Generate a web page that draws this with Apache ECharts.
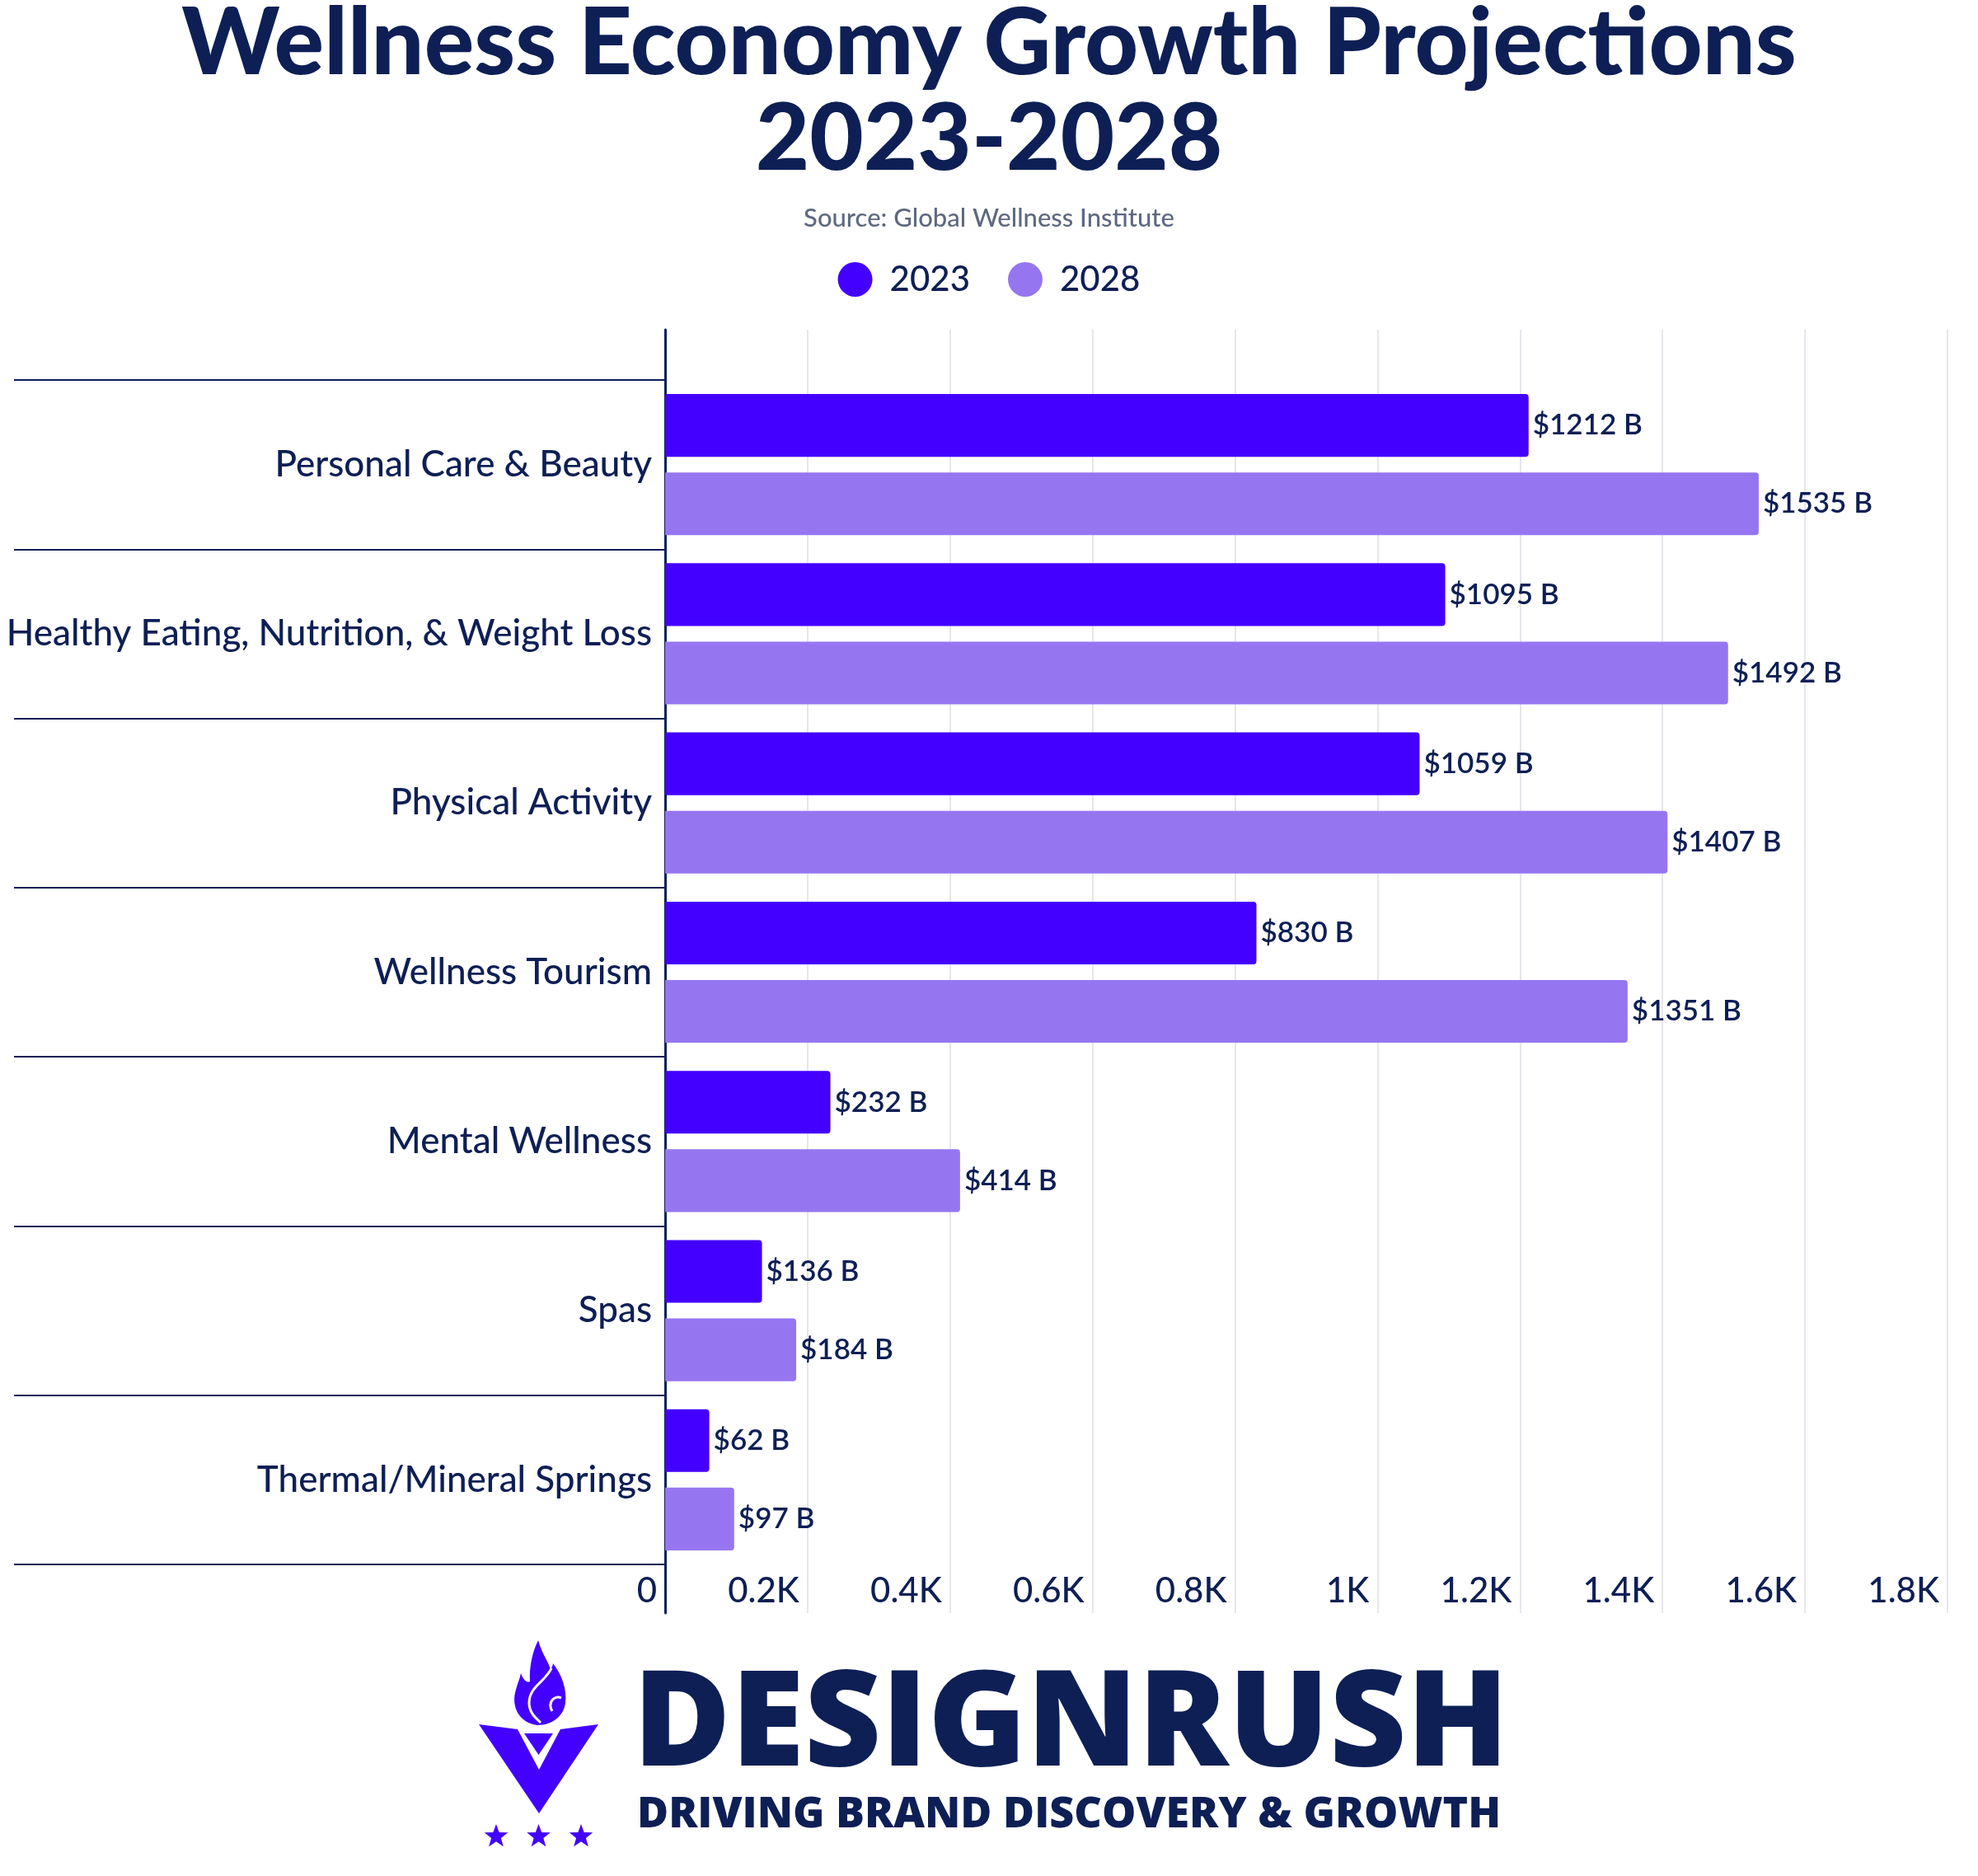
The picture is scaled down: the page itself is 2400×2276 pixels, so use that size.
<!DOCTYPE html>
<html>
<head>
<meta charset="utf-8">
<script src="https://cdn.jsdelivr.net/npm/echarts@6/dist/echarts.min.js"></script>
<style>
html,body{margin:0;padding:0;background:#fff;}
#chart{width:2400px;height:2276px;}
</style>
</head>
<body>
<div id="chart"></div>
<script>
const categories = [
  'Personal Care & Beauty',
  'Healthy Eating, Nutrition, & Weight Loss',
  'Physical Activity',
  'Wellness Tourism',
  'Mental Wellness',
  'Spas',
  'Thermal/Mineral Springs'
];
const seriesNames = ['2023', '2028'];
const values2023 = [1212, 1095, 1059, 830, 232, 136, 62];
const values2028 = [1535, 1492, 1407, 1351, 414, 184, 97];
const xTickLabels = ['0', '0.2K', '0.4K', '0.6K', '0.8K', '1K', '1.2K', '1.4K', '1.6K', '1.8K'];

const NAVY = '#0D1F55';
const C2023 = '#4400FF';
const C2028 = '#9676F0';
const FONT = 'Lato';

function starPoints(cx, cy, R, r) {
  const pts = [];
  for (let i = 0; i < 10; i++) {
    const a = -Math.PI / 2 + i * Math.PI / 5;
    const rad = i % 2 === 0 ? R : r;
    pts.push([cx + rad * Math.cos(a), cy + rad * Math.sin(a)]);
  }
  return pts;
}

const FLAME = 'M92 113 C68 110 60 88 66 70 C68 62 71 56 72 50 C75 58 79 62 83 60 C82 42 86 24 93 10 C98 28 106 36 108 46 C110 42 111 40 111 38 C122 52 128 70 126 86 C124 102 110 113 92 113 Z';

function renderLogo() {
  return {
    type: 'group', x: 560, y: 1980,
    children: [
      {type: 'path', shape: {pathData: FLAME}, style: {fill: C2023}},
      {type: 'path', shape: {pathData: 'M109 44 C102 60 82 66 82 86 C82 98 90 104 96 110'},
        style: {fill: null, stroke: '#ffffff', lineWidth: 3}},
      {type: 'path', shape: {pathData: 'M121 80 C112 76 104 86 110 96'},
        style: {fill: null, stroke: '#ffffff', lineWidth: 3}},
      {type: 'polygon', shape: {points: [[21, 112], [68, 118], [94, 167], [120, 118], [166, 112], [94, 220]]},
        style: {fill: C2023}},
      {type: 'polygon', shape: {points: [[76, 123], [111, 123], [93.5, 149]]}, style: {fill: C2023}},
      {type: 'polygon', shape: {points: starPoints(42, 248, 15, 6.2)}, style: {fill: C2023}},
      {type: 'polygon', shape: {points: starPoints(93.5, 248, 15, 6.2)}, style: {fill: C2023}},
      {type: 'polygon', shape: {points: starPoints(145, 248, 15, 6.2)}, style: {fill: C2023}}
    ]
  };
}

const chart = echarts.init(document.getElementById('chart'), null, {renderer: 'canvas'});

const option = {
  backgroundColor: '#ffffff',
  animation: false,
  title: [
    {
      text: 'Wellness Economy Growth Projections\n2023-2028',
      left: 'center',
      top: -9,
      textStyle: {
        fontFamily: FONT, fontWeight: 900, fontSize: 113, lineHeight: 116, color: NAVY, align: 'center'
      }
    },
    {
      text: 'Source: Global Wellness Institute',
      left: 'center',
      top: 242,
      textStyle: {fontFamily: FONT, fontWeight: 500, fontSize: 31, lineHeight: 36, color: '#5E6880'}
    }
  ],
  legend: {
    data: seriesNames,
    left: 'center',
    top: 313,
    icon: 'circle',
    itemWidth: 42,
    itemHeight: 42,
    itemGap: 46,
    textStyle: {fontFamily: FONT, fontSize: 42, lineHeight: 42, color: NAVY, fontWeight: 500, padding: [0, 0, 0, 16]}
  },
  grid: [
    {left: 807, right: 37, top: 400, bottom: 319, containLabel: false},
    {left: 807, right: 37, top: 461, bottom: 378, containLabel: false}
  ],
  xAxis: [
    {
      gridIndex: 0, type: 'value', min: 0, max: 1800, interval: 200,
      axisLine: {show: false}, axisTick: {show: false},
      splitLine: {show: true, lineStyle: {color: '#E6E6EC', width: 2}},
      axisLabel: {
        inside: true, margin: 27, align: 'right', verticalAlign: 'middle',
        padding: [0, 10, 0, 0],
        fontFamily: FONT, fontSize: 42, fontWeight: 500, color: NAVY,
        formatter: function (v) { return xTickLabels[Math.round(v / 200)]; }
      }
    },
    {
      gridIndex: 1, type: 'value', min: 0, max: 1800, interval: 200, show: false,
      splitLine: {show: false}
    }
  ],
  yAxis: [
    {
      gridIndex: 0, type: 'value', min: 0, max: 1,
      axisLine: {show: true, lineStyle: {color: NAVY, width: 3}},
      axisTick: {show: false}, axisLabel: {show: false}, splitLine: {show: false}
    },
    {
      gridIndex: 1, type: 'category', inverse: true, data: categories,
      axisLine: {show: false},
      axisTick: {show: true, length: 790, interval: 0, lineStyle: {color: NAVY, width: 2}},
      axisLabel: {
        margin: 16, interval: 0, fontFamily: FONT, fontSize: 44, fontWeight: 500, color: NAVY
      },
      splitLine: {show: false}
    }
  ],
  series: [
    {
      name: seriesNames[0], type: 'bar', xAxisIndex: 1, yAxisIndex: 1,
      data: values2023,
      barCategoryGap: '16.6%', barGap: '25%',
      itemStyle: {color: C2023, borderRadius: [0, 4, 4, 0]},
      label: {
        show: true, position: 'right', distance: 5,
        formatter: '${c} B',
        fontFamily: FONT, fontSize: 35, fontWeight: 600, color: NAVY
      }
    },
    {
      name: seriesNames[1], type: 'bar', xAxisIndex: 1, yAxisIndex: 1,
      data: values2028,
      barCategoryGap: '16.6%', barGap: '25%',
      itemStyle: {color: C2028, borderRadius: [0, 4, 4, 0]},
      label: {
        show: true, position: 'right', distance: 5,
        formatter: '${c} B',
        fontFamily: FONT, fontSize: 35, fontWeight: 600, color: NAVY
      }
    },
    {
      name: 'logo', type: 'custom', coordinateSystem: 'none',
      data: [[0]], silent: true,
      renderItem: function () { return renderLogo(); }
    }
  ],
  graphic: [
    {
      type: 'text', left: 768, top: 2015,
      style: {
        text: 'DESIGNRUSH', fill: NAVY,
        font: '800 162px "Open Sans"'
      }
    },
    {
      type: 'text', left: 773, top: 2176,
      style: {
        text: 'DRIVING BRAND DISCOVERY & GROWTH', fill: NAVY,
        font: '800 52px "Open Sans"'
      }
    }
  ]
};

chart.setOption(option);
</script>
</body>
</html>
